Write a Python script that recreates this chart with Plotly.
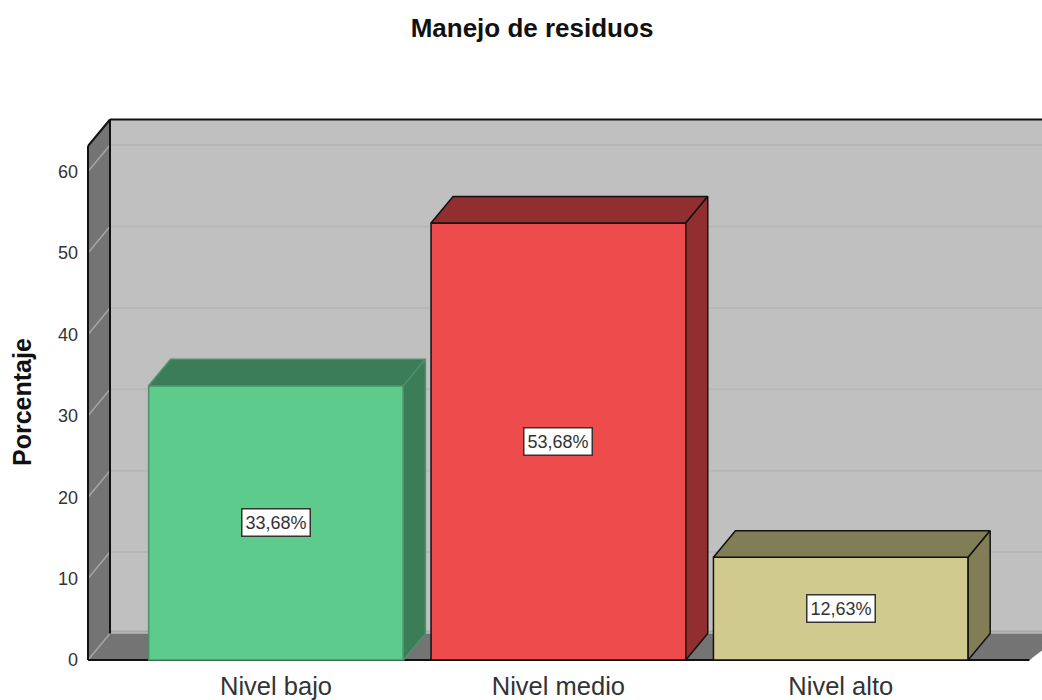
import plotly.graph_objects as go

categories = ["Nivel bajo", "Nivel medio", "Nivel alto"]
percent = [33.68, 53.68, 12.63]
labels = ["33,68%", "53,68%", "12,63%"]
y_ticks = [0, 10, 20, 30, 40, 50, 60]

front_colors = ["#5dcb8c", "#ee4b4d", "#d0ca8e"]
depth_colors = ["#3a7d57", "#912e2f", "#807d57"]
edge_colors = ["#4f8f6b", "#111111", "#111111"]

W, H = 1042, 700
M_L, M_R, M_T, M_B = 84, 0, 114, 36
PX_X = 282.4   # pixels per category
PX_Y = 8.14    # pixels per percent
X0_PX, Y0_PX = 276, 660   # category 0 / value 0

x_range = [(M_L - X0_PX) / PX_X, (W - M_R - X0_PX) / PX_X]
y_range = [(Y0_PX - (H - M_B)) / PX_Y, (Y0_PX - M_T) / PX_Y]

# oblique depth of the fake 3D box
DX = 22 / PX_X
DY = 26.5 / PX_Y
BAR_W = 0.902
HALF = BAR_W / 2
LEFT = (88 - X0_PX) / PX_X
FLOOR_RIGHT = (1029.5 - X0_PX) / PX_X
TOP = (146 - Y0_PX) / -PX_Y

shapes = []


def poly(pts, fill, line="rgba(0,0,0,0)", width=0):
    path = "M " + " L ".join(f"{x},{y}" for x, y in pts) + " Z"
    shapes.append(dict(type="path", path=path, xref="x", yref="y", layer="below",
                       fillcolor=fill, line=dict(color=line, width=width)))


def seg(x0, y0, x1, y1, color, width):
    shapes.append(dict(type="line", x0=x0, y0=y0, x1=x1, y1=y1, xref="x", yref="y",
                       layer="below", line=dict(color=color, width=width)))


# back wall
poly([(LEFT + DX, DY), (x_range[1], DY), (x_range[1], TOP + DY), (LEFT + DX, TOP + DY)], "#c0c0c0")
# grid on the back wall and the left wall
for t in y_ticks[1:]:
    seg(LEFT + DX, t + DY, x_range[1], t + DY, "#b6b6b6", 2)
# left wall and floor
poly([(LEFT, 0), (LEFT + DX, DY), (LEFT + DX, TOP + DY), (LEFT, TOP)], "#747474")
poly([(LEFT, 0), (LEFT + DX, DY), (x_range[1] + DX, DY), (FLOOR_RIGHT, 0)], "#747474")
seg(LEFT + DX, DY + 0.25, x_range[1], DY + 0.25, "#a8a8a8", 2)
for t in y_ticks:
    seg(LEFT, t, LEFT + DX, t + DY, "#a6a6a6", 1.5)
# box outline
seg(LEFT, 0, LEFT, TOP, "#111111", 2)
seg(LEFT + DX, DY, LEFT + DX, TOP + DY, "#111111", 2)
seg(LEFT, TOP, LEFT + DX, TOP + DY, "#111111", 2)
seg(LEFT + DX, TOP + DY, x_range[1], TOP + DY, "#111111", 2)
seg(LEFT, 0, FLOOR_RIGHT, 0, "#111111", 2)
seg(FLOOR_RIGHT, 0, x_range[1], (x_range[1] - FLOOR_RIGHT) / DX * DY, "#777777", 1)

fig = go.Figure()
x_pos = list(range(len(categories)))

fig.add_trace(go.Bar(
    x=x_pos, y=percent, width=BAR_W,
    marker=dict(color=front_colors, line=dict(color=edge_colors, width=1.5)),
    showlegend=False,
))

# top and side faces of each bar, worked out from its value
for i, v in enumerate(percent):
    xl, xr = i - HALF, i + HALF
    top_x = [xl, xl + DX, xr + DX, xr, xl]
    top_y = [v, v + DY, v + DY, v, v]
    side_x = [xr, xr + DX, xr + DX, xr, xr]
    side_y = [0, DY, v + DY, v, 0]
    for xs, ys in ((top_x, top_y), (side_x, side_y)):
        fig.add_trace(go.Scatter(
            x=xs, y=ys, mode="lines", fill="toself", fillcolor=depth_colors[i],
            line=dict(color=edge_colors[i], width=1.5), showlegend=False, hoverinfo="skip",
        ))

# value boxes
annotations = [
    dict(x=i, y=v / 2, xref="x", yref="y", text=labels[i], showarrow=False,
         font=dict(family="Liberation Sans", size=18, color="#333333"),
         bgcolor="white", bordercolor="#333333", borderwidth=1.5, borderpad=3)
    for i, v in enumerate(percent)
]
# pixel position converted to paper coordinates
annotations.append(dict(
    x=(22 - M_L) / (W - M_L - M_R), y=(H - M_B - 402) / (H - M_T - M_B),
    xref="paper", yref="paper", xanchor="center", yanchor="middle",
    text="<b>Porcentaje</b>", showarrow=False,
    textangle=-90, font=dict(family="Liberation Sans", size=25, color="#111111"),
))

fig.update_layout(
    width=W, height=H,
    margin=dict(l=M_L, r=M_R, t=M_T, b=M_B, pad=0),
    paper_bgcolor="white", plot_bgcolor="white",
    title=dict(text="<b>Manejo de residuos</b>", x=532 / W, xanchor="center", y=1 - 28 / H, yanchor="middle",
               font=dict(family="Liberation Sans", size=26, color="#111111")),
    shapes=shapes, annotations=annotations,
    xaxis=dict(range=x_range, tickvals=x_pos, ticktext=categories, showgrid=False, zeroline=False,
               showline=False, ticks="", ticklabelstandoff=4,
               tickfont=dict(family="Liberation Sans", size=25.5, color="#333333")),
    yaxis=dict(range=y_range, tickvals=y_ticks, showgrid=False, zeroline=False, showline=False,
               ticks="", ticklabelstandoff=5,
               tickfont=dict(family="Liberation Sans", size=18, color="#333333")),
)

# the page's default body margin would push the figure off the 1042x700 window
fig.write_html("out.html", config={"displayModeBar": False},
               post_script="document.body.style.margin='0';")
